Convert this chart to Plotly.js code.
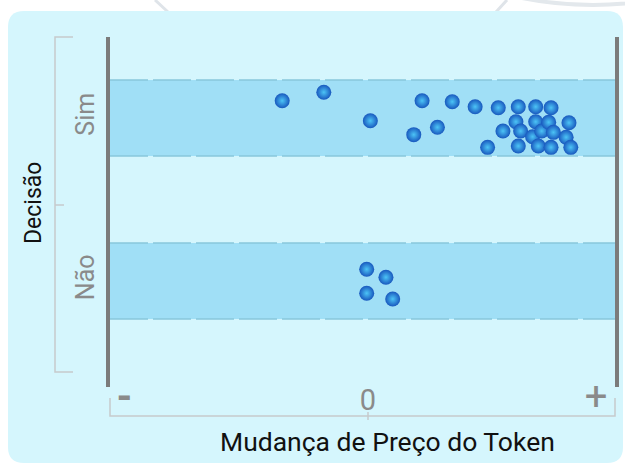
<!DOCTYPE html>
<html>
<head>
<meta charset="utf-8">
<script src="https://cdn.plot.ly/plotly-3.0.1.min.js"></script>
<style>
  html, body { margin: 0; padding: 0; background: #ffffff; }
  #chart { width: 625px; height: 466px; }
</style>
</head>
<body>
<div id="chart"></div>
<script>
// ---- Data ----
const categories = ['Não', 'Sim'];

// "Sim" decisions: token price change (x) and vertical jitter within the band
const simPriceChange = [-0.330, -0.170, 0.009, 0.208, 0.176, 0.267, 0.324, 0.412, 0.501, 0.460,
                        0.519, 0.578, 0.569, 0.587, 0.578, 0.645, 0.645, 0.633, 0.668, 0.655,
                        0.704, 0.695, 0.713, 0.704, 0.773, 0.762, 0.780];
const simJitter = [0.106, 0.158, -0.017, 0.106, -0.102, -0.057, 0.100, 0.069, 0.063, -0.180,
                   -0.080, 0.069, -0.023, -0.080, -0.172, 0.069, -0.023, -0.115, -0.080, -0.172,
                   0.063, -0.026, -0.088, -0.180, -0.029, -0.118, -0.180];

// "Não" decisions
const naoPriceChange = [-0.005, 0.069, -0.005, 0.095];
const naoJitter = [0.072, 0.023, -0.075, -0.110];

// x tick labels
const xTickVals = [-0.937, 0, 0.877];
const xTickText = ['-', '0', '+'];

// titles
const xTitle = 'Mudança de Preço do Token';
const yTitle = 'Decisão';

// ---- Layout helpers (pixel -> paper) ----
const W = 625, H = 466;
const M = { l: 110, r: 10, t: 37, b: 79 };
const PW = W - M.l - M.r, PH = H - M.t - M.b;
const px = x => (x - M.l) / PW;
const py = y => (H - M.b - y) / PH;
const P = (x, y) => px(x).toFixed(5) + ',' + py(y).toFixed(5);

function roundRect(x0, y0, x1, y1, r) {
  return 'M' + P(x0 + r, y0) + ' L' + P(x1 - r, y0) + ' Q' + P(x1, y0) + ' ' + P(x1, y0 + r) +
         ' L' + P(x1, y1 - r) + ' Q' + P(x1, y1) + ' ' + P(x1 - r, y1) +
         ' L' + P(x0 + r, y1) + ' Q' + P(x0, y1) + ' ' + P(x0, y1 - r) +
         ' L' + P(x0, y0 + r) + ' Q' + P(x0, y0) + ' ' + P(x0 + r, y0) + ' Z';
}

const idxSim = categories.indexOf('Sim');
const idxNao = categories.indexOf('Não');
const half = 0.233;

const shapes = [];
// background decorations
shapes.push({ type: 'circle', xref: 'paper', yref: 'paper', layer: 'below',
  x0: px(593 - 362), x1: px(593 + 362), y0: py(5), y1: py(5 - 724),
  line: { color: '#e3e8ec', width: 4 }, fillcolor: 'rgba(0,0,0,0)' });
shapes.push({ type: 'line', xref: 'paper', yref: 'paper', layer: 'below',
  x0: px(155), y0: py(0), x1: px(168), y1: py(12), line: { color: '#dfe4e9', width: 3 } });
shapes.push({ type: 'line', xref: 'paper', yref: 'paper', layer: 'below',
  x0: px(507), y0: py(0), x1: px(496), y1: py(12), line: { color: '#dfe4e9', width: 3 } });
// card
shapes.push({ type: 'path', xref: 'paper', yref: 'paper', layer: 'below',
  path: roundRect(8, 11, 623, 463, 16), fillcolor: '#d5f6fd', line: { width: 0 } });
// bands
[idxNao, idxSim].forEach(c => {
  shapes.push({ type: 'rect', xref: 'paper', yref: 'y', layer: 'below',
    x0: 0, x1: 1, y0: c - half, y1: c + half, fillcolor: '#a0dff6', line: { width: 0 } });
  [c - half, c + half].forEach(yv => {
    shapes.push({ type: 'line', xref: 'paper', yref: 'y', layer: 'below',
      x0: 0, x1: 1, y0: yv, y1: yv, line: { color: '#88c7dc', width: 1.5, dash: '38px,5px' } });
  });
});
// left bracket
shapes.push({ type: 'path', xref: 'paper', yref: 'paper',
  path: 'M' + P(73, 37) + ' L' + P(55, 37) + ' L' + P(55, 372) + ' L' + P(73, 372),
  line: { color: '#c6cacc', width: 1.5 } });
shapes.push({ type: 'line', xref: 'paper', yref: 'paper',
  x0: px(55), x1: px(64), y0: py(205), y1: py(205), line: { color: '#c6cacc', width: 1.5 } });
// bottom bracket
shapes.push({ type: 'path', xref: 'paper', yref: 'paper',
  path: 'M' + P(110, 398) + ' L' + P(110, 416) + ' L' + P(615, 416) + ' L' + P(615, 398),
  line: { color: '#c6cacc', width: 1.5 } });
shapes.push({ type: 'line', xref: 'paper', yref: 'paper',
  x0: px(368), x1: px(368), y0: py(412), y1: py(420), line: { color: '#c6cacc', width: 1.5 } });

const markerStyle = {
  size: 15, color: '#1858be',
  gradient: { type: 'radial', color: '#4cc4f6' },
  line: { width: 0 }
};

const traces = [
  { type: 'scatter', mode: 'markers', name: 'Sim',
    x: simPriceChange, y: simJitter.map(j => idxSim + j),
    marker: markerStyle, hoverinfo: 'skip' },
  { type: 'scatter', mode: 'markers', name: 'Não',
    x: naoPriceChange, y: naoJitter.map(j => idxNao + j),
    marker: markerStyle, hoverinfo: 'skip' }
];

const tickStyle = t => {
  if (t === '+') return '<span style="font-size:40px">' + t + '</span>';
  if (t === '-') return '<span style="font-size:40px;font-weight:bold">' + t + '</span>';
  return t;
};

const layout = {
  width: W, height: H,
  margin: M,
  paper_bgcolor: 'rgba(0,0,0,0)',
  plot_bgcolor: 'rgba(0,0,0,0)',
  showlegend: false,
  font: { family: 'Roboto, sans-serif' },
  xaxis: {
    range: [(M.l - 368) / 260, (W - M.r - 368) / 260],
    tickvals: xTickVals, ticktext: xTickText.map(tickStyle),
    tickfont: { size: 29, color: '#8a8a8a' },
    ticklabelstandoff: -7,
    showgrid: false, zeroline: false, showline: false, ticks: ''
  },
  yaxis: {
    range: [-0.650, 1.497],
    tickvals: [idxNao, idxSim], ticktext: categories,
    tickangle: -90,
    tickfont: { size: 25, color: '#8a8a8a' },
    ticklabelstandoff: 2,
    showgrid: false, zeroline: false,
    showline: true, mirror: true, linecolor: '#7b7b7b', linewidth: 4,
    ticks: ''
  },
  annotations: [
    { text: xTitle, xref: 'paper', yref: 'paper', x: px(387), y: py(441),
      xanchor: 'center', yanchor: 'middle', showarrow: false,
      font: { size: 26.5, color: '#111111' } },
    { text: yTitle, xref: 'paper', yref: 'paper', x: px(33), y: py(203),
      xanchor: 'center', yanchor: 'middle', showarrow: false, textangle: -90,
      font: { size: 23, color: '#111111' } }
  ],
  shapes: shapes
};

Plotly.newPlot('chart', traces, layout, { displayModeBar: false, staticPlot: true });
</script>
</body>
</html>
